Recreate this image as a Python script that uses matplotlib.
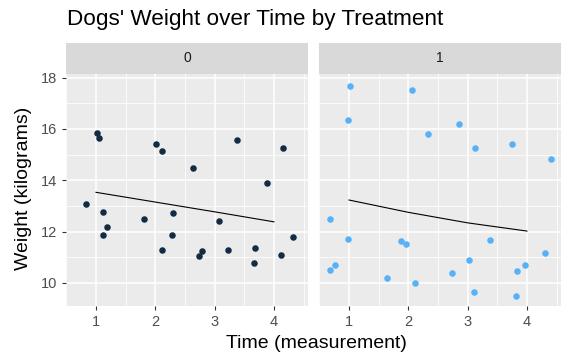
import numpy as np
import matplotlib
matplotlib.use("Agg")
from matplotlib import pyplot as plt

plt.rcParams['font.family'] = ['Liberation Sans', 'DejaVu Sans']

# treatment 0
time_0 = [0.83, 1.02, 1.05, 1.11, 1.11, 1.18, 1.81, 2.01, 2.11, 2.12, 2.28, 2.30,
          2.64, 2.74, 2.78, 3.07, 3.22, 3.37, 3.68, 3.67, 3.89, 4.12, 4.15, 4.32]
weight_0 = [13.07, 15.83, 15.66, 12.76, 11.88, 12.19, 12.50, 15.41, 15.15, 11.30, 11.88, 12.71,
            14.48, 11.03, 11.25, 12.40, 11.30, 15.57, 11.36, 10.78, 13.90, 11.09, 15.26, 11.77]
fit_0 = [13.53, 13.15, 12.77, 12.38]

# treatment 1
time_1 = [1.02, 2.07, 0.99, 2.85, 2.34, 3.13, 3.75, 4.40, 0.68, 0.99, 1.88, 1.96,
          3.37, 4.31, 3.03, 0.68, 0.77, 1.64, 2.11, 2.74, 3.10, 3.84, 3.97, 3.81]
weight_1 = [17.69, 17.53, 16.34, 16.19, 15.82, 15.24, 15.40, 14.83, 12.49, 11.71, 11.62, 11.51,
            11.67, 11.15, 10.89, 10.52, 10.68, 10.21, 10.00, 10.37, 9.64, 10.47, 10.68, 9.48]
fit_1 = [13.23, 12.75, 12.34, 12.02]

fit_time = [1, 2, 3, 4]
panels = [("0", time_0, weight_0, fit_0, "#132B43"),
          ("1", time_1, weight_1, fit_1, "#56B1F7")]

fig = plt.figure(figsize=(5.62, 3.61), dpi=100)
W, H = 562, 361
lefts = [66, 319]
pw, top, bot, strip_top = 242, 74, 306, 43

for i, (lab, t, w, f, col) in enumerate(panels):
    ax = fig.add_axes([lefts[i] / W, 1 - bot / H, pw / W, (bot - top) / H])
    ax.set_facecolor("#EBEBEB")
    ax.set_xlim(0.494, 4.575)
    ax.set_ylim(9.1, 18.14)
    ax.set_xticks([1, 2, 3, 4])
    ax.set_xticks([0.5, 1.5, 2.5, 3.5, 4.5], minor=True)
    ax.set_yticks([10, 12, 14, 16, 18])
    ax.set_yticks([11, 13, 15, 17], minor=True)
    ax.grid(True, which="major", color="white", lw=1.1)
    ax.grid(True, which="minor", color="white", lw=0.55)
    ax.set_axisbelow(True)
    for s in ax.spines.values():
        s.set_visible(False)
    ax.tick_params(which="major", colors="#333333", labelcolor="#4D4D4D",
                   labelsize=10.5, length=3, width=0.8)
    ax.tick_params(which="minor", length=0)
    if i == 1:
        ax.tick_params(axis="y", which="major", left=False, labelleft=False)
    ax.scatter(t, w, s=22, color=col, zorder=3, linewidths=0)
    ax.plot(fit_time, f, color="black", lw=0.8, zorder=2)

    sax = fig.add_axes([lefts[i] / W, 1 - top / H, pw / W, (top - strip_top) / H])
    sax.set_facecolor("#D9D9D9")
    sax.set_xticks([])
    sax.set_yticks([])
    for s in sax.spines.values():
        s.set_visible(False)
    sax.text(0.5, 0.5, lab, ha="center", va="center", fontsize=10, color="#1A1A1A",
             transform=sax.transAxes)

fig.text(67 / W, 1 - 20 / H, "Dogs' Weight over Time by Treatment", fontsize=16.2,
         ha="left", va="center", color="black")
fig.text(24 / W, 1 - 188 / H, "Weight (kilograms)", fontsize=14, rotation=90,
         ha="center", va="center", color="black")
fig.text(316 / W, 1 - 344 / H, "Time (measurement)", fontsize=14,
         ha="center", va="center", color="black")

fig.savefig("out.png", dpi=100)
